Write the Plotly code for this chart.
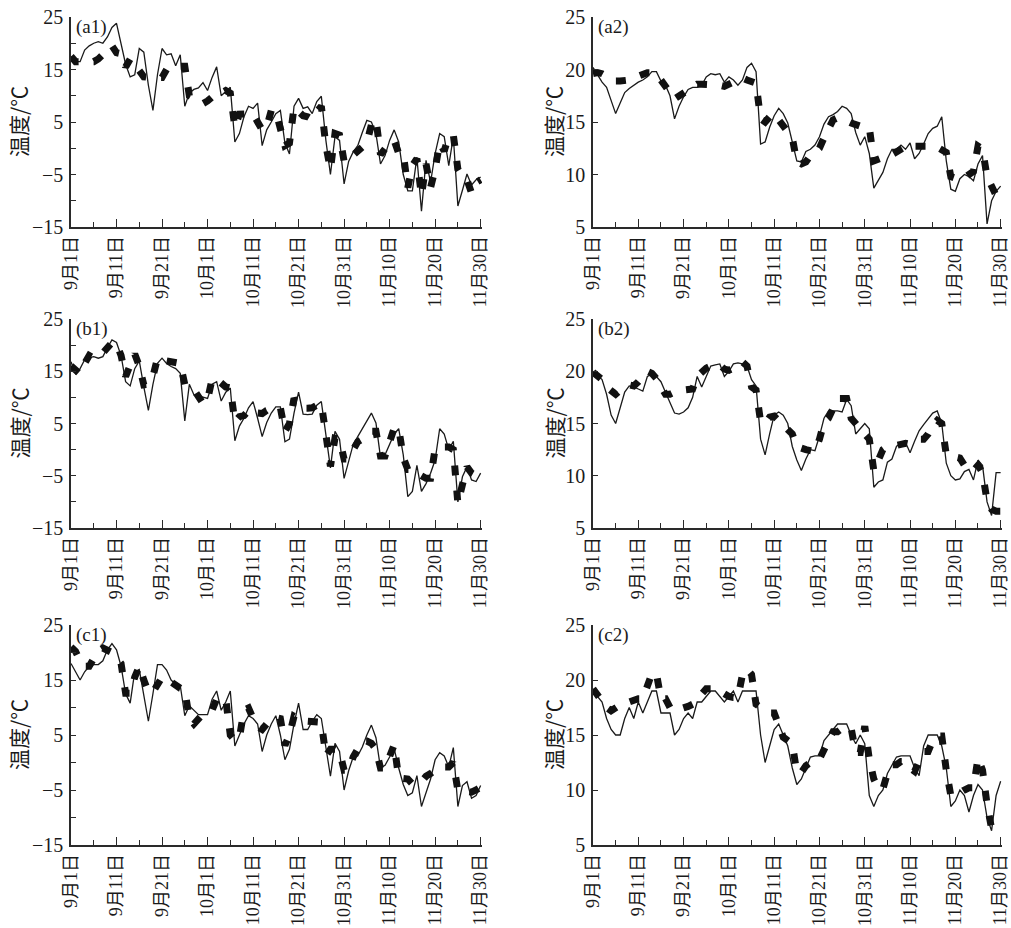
import plotly.graph_objects as go

# ---------------- data ----------------
days = list(range(91))  # 9月1日 (0) ... 11月30日 (90)
tick_days = [0, 10, 20, 30, 40, 50, 60, 70, 80, 90]
tick_labels = ["9月1日", "9月11日", "9月21日", "10月1日", "10月11日",
               "10月21日", "10月31日", "11月10日", "11月20日", "11月30日"]

a1_obs = [17.5, 16.5, 16.5, 18.7, 19.5, 20, 20.3, 20, 21.2, 23, 23.8, 20, 16, 13.6, 14, 19, 18.3, 12, 7.2, 14,
          19, 17.8, 18, 15.7, 17.8, 8, 10.5, 11.2, 11.5, 12.5, 11, 13.5, 15.5, 10, 10.8, 11.6, 1.2, 2.8, 6, 8,
          7.6, 8.6, 0.5, 3.5, 5, 6.6, 7.2, 1, -1.1, 8, 9.5, 7.6, 7.9, 6.6, 8.9, 9.9, 1.5, -5, 2.2, 1.5,
          -6.8, -2.5, -0.7, 0.5, 3, 5.3, 5, 2.8, -3, -1.4, 1.5, 3.5, 1.2, -5, -8.1, -8.1, -1.7, -12, -2.3, -6.5,
          -1, 2.8, 2.2, -3.3, 2.2, -11, -8, -4.9, -7, -6, -5.5]
a1_pred = [17.5, 16.5, 16.5, 16.5, 16.2, 16.5, 17, 18, 19, 19.5, 18.2, 18, 15.5, 17, 16, 15, 13.6, 13.5, 13.5, 13.5,
           13.5, 15, 15.5, 15.6, 15.6, 15.6, 10, 9.5, 9, 8.5, 9, 10, 10.5, 10.5, 11, 10.5, 4, 6.5, 6.6, 6.6,
           6.6, 5, 3.5, 4, 7.2, 7, 3, 0.5, 1, 7.8, 7, 6.2, 6, 5.5, 7, 8, 0.5, -4, 2.8, 2.5,
           -2.5, -1.3, -1.3, -0.5, 0, 1, 4.5, 5.5, -1.2, 0, 1, 1.5, -1, -1, -7.5, -3.3, -2, -9, -3, -7.5,
           -4, 1, -0.5, 2.3, 2.5, -4, -5.5, -6, -8.5, -6.5, -6]

a2_obs = [20.2, 19.5, 18.8, 18.3, 17, 15.8, 16.8, 17.8, 18.2, 18.5, 18.8, 19, 19.3, 19.8, 19.8, 18.9, 18.5, 17.5, 15.3, 16.5,
          17.4, 18.1, 18.3, 18.3, 18.5, 19.3, 19.6, 19.5, 19.6, 18.8, 19.3, 19, 18.5, 19, 20.2, 20.6, 19.8, 12.9, 13.1, 14.5,
          15.6, 16.3, 15.8, 14.9, 13, 11.3, 11.2, 12.2, 12.4, 12.8, 13.6, 14.8, 15.5, 15.7, 16, 16.5, 16.3, 15.8, 14, 12.8,
          13.6, 12, 8.7, 9.5, 10.2, 11.5, 12.4, 12.4, 12.8, 12.4, 13, 11.5, 12, 12.9, 13.9, 14.4, 14.6, 15.5, 11.3, 8.6,
          8.4, 9.6, 10, 9.8, 9.4, 11, 11.8, 5.3, 7.5, 8.4, 8.9]
a2_pred = [19.6, 19.7, 19.6, 19.3, 19, 18.9, 18.9, 18.9, 19, 19.2, 19.4, 19.5, 19.7, 19.7, 19.6, 19, 18.5, 17.8, 17.2, 17.5,
           17.8, 18, 18.3, 18.6, 18.6, 18.6, 18.6, 18.5, 18.5, 18.4, 18.6, 18.8, 19, 19.2, 19, 18.9, 18.7, 15.3, 15, 15.5,
           15.8, 15.2, 14.6, 14.2, 13.5, 11.2, 11, 11.2, 11.8, 12.1, 12.5, 13.5, 14.5, 15.2, 15.4, 15.3, 15.1, 14.9, 14.7, 14.6,
           14.6, 14.5, 11.3, 11.5, 11.6, 11.8, 11.9, 12.2, 12.5, 12.7, 12.9, 12.7, 12.7, 12.7, 12.8, 12.7, 12.6, 12.4, 12.1, 9.8,
           9.6, 9.5, 9.7, 10, 10.3, 12.7, 12.4, 9.8, 8.8, 8, 7.6]

b1_obs = [16.8, 14.5, 15.5, 17.2, 17.6, 17.8, 17.5, 17.8, 19.5, 21, 20.5, 18, 13, 12.2, 15.5, 17, 12, 7.5, 12.5, 16.5,
          17.5, 16.5, 15.9, 15.5, 14.6, 5.5, 12.5, 10.5, 10.3, 10, 9.8, 12.5, 13, 9.3, 11, 11.8, 1.7, 4.5, 6, 8,
          9.2, 6, 2.5, 5.2, 7, 8.2, 8.2, 1.5, 2, 7, 11, 6.8, 6.7, 6.8, 8.5, 9.2, 3, -3.5, 3.5, 2,
          -5.5, -2, 1, 2.5, 4, 5.5, 7, 5.1, -1.5, -1, 1, 3, 4, -1, -9, -8, -3, -8, -6.5, -4.5,
          -2, 4, 3, 0, 1.6, -10, -5.2, -3.3, -5.8, -6.1, -4.5]
b1_pred = [16, 15, 14.5, 16.5, 18, 17.5, 17.8, 18.5, 19.5, 20.5, 20.3, 18, 14, 16, 18.3, 16, 12.4, 12.5, 14, 17.5,
           17.5, 17, 16.8, 16.8, 16.5, 12.5, 12.2, 11.5, 10, 8.8, 9.5, 13.5, 13.5, 12.5, 12, 11.8, 5.3, 6.3, 6.5, 7.5,
           7.8, 7, 6.9, 7.5, 8, 8.2, 8, 3.5, 5, 9.8, 8.5, 7.9, 7.9, 8, 8.5, 8.8, 2.9, -3.2, 2.2, 2,
           -1.8, -1.8, 0, 1.5, 2, 3, 3.5, 3.5, -1.2, -1.2, 2, 4.1, 4.1, -1.5, -3.8, -3.8, -4.5, -5, -5.5, -5.5,
           0.2, 0.5, 0.5, 0.5, 0, -10.3, -6.7, -3.3, -4.5, -5, -5]

b2_obs = [20, 19.6, 19.2, 17.8, 15.8, 15, 16.5, 18, 18.6, 18.5, 18.3, 18.1, 19.5, 19.7, 19.5, 19, 18, 17, 16, 15.9,
          16.1, 16.5, 17.5, 19.5, 18.5, 19.5, 20.5, 20.6, 20.7, 19.5, 20, 20.7, 20.8, 20.7, 20.5, 19.2, 18.6, 13.5, 12, 14,
          15.8, 16.1, 15.8, 15, 12.8, 11.5, 10.5, 11.6, 12.5, 12.4, 13.8, 15.5, 16.2, 16.2, 16.2, 16.1, 17.3, 16.7, 14, 14.5,
          15, 14.5, 8.9, 9.4, 9.6, 11.3, 11.6, 12.8, 13.2, 13.2, 12.2, 13.3, 14.3, 14.9, 15.5, 16, 16.2, 15, 11.2, 10,
          9.6, 9.7, 10.4, 10.6, 9.6, 11.5, 11, 7.5, 6.2, 10.3, 10.3]
b2_pred = [19.9, 19.5, 19.2, 18.5, 18.2, 17.8, 18.2, 18.6, 18.7, 18.6, 19, 19.5, 20, 19.8, 19.3, 18.5, 17.8, 17.8, 18, 18.2,
           18.2, 18.2, 18.3, 19.5, 20, 20.3, 20.5, 20.7, 20.6, 20.2, 20.1, 20.3, 20.8, 20.9, 20.5, 18.5, 18.2, 15.2, 15, 15.6,
           15.7, 15.3, 14.8, 14.5, 14, 12.8, 12.6, 12.5, 12.4, 12.3, 13.5, 15.1, 15.5, 16.5, 17.4, 17.4, 17.4, 15.5, 15, 14.5,
           13.8, 13.5, 10.5, 11.5, 12.5, 12.8, 12.8, 12.9, 13, 13.1, 13, 13.2, 13.5, 13.5, 14, 14.8, 15.3, 15, 12, 11.9,
           11.8, 11.7, 11, 10.5, 10.5, 11, 10.3, 7.6, 6.8, 6.6, 6.6]

c1_obs = [18, 16.5, 15, 16.5, 17.5, 17.8, 17.8, 18.5, 20.5, 21.6, 20.5, 17.5, 12.5, 10.8, 16.5, 16.9, 12, 7.5, 12.5, 17.8,
          17.8, 16.8, 15, 14.2, 14, 8.5, 10.3, 9.5, 8.7, 8.7, 8.7, 11.5, 13, 9.5, 11, 13, 3, 5, 7, 8.5,
          8, 7, 2, 5, 7, 8.5, 5, 0.5, 2.4, 7, 10.8, 6, 6, 7.5, 8.7, 8, 3, -2.5, 3.5, 2,
          -5, -1.5, 1, 1.2, 2.8, 5, 6.8, 4.5, -1, -0.5, 1, 2.5, -1, -4, -6, -5.5, -2.4, -8, -5.5, -3,
          0.5, 1.8, 1.2, -0.8, 2.7, -8, -4.2, -3.5, -6.5, -6, -4.2]
c1_pred = [21, 20.2, 18.5, 17.5, 17.5, 19, 20.3, 20.8, 20.5, 20, 19, 18, 12.6, 12.6, 15.5, 17.5, 15, 12.8, 12.8, 14,
           15.5, 15.2, 14.5, 14, 13.5, 13.2, 8, 7, 8, 8.8, 9.2, 9.5, 11.5, 11.2, 11.5, 5, 4, 4.5, 9.5, 9.9,
           8, 6.5, 6, 7, 8, 8.2, 8, 3.1, 5, 8.4, 8, 7.5, 7.5, 7.5, 7.3, 7.3, 1.2, 2.4, 2.4, 2,
           -1.4, -1.4, 1, 2.5, 3.9, 3.9, 3.5, 2.4, -1, -1, 1, 3.2, -2.8, -3, -3, -3.9, -3.9, -3.5, -2.5, -2,
           -1.5, -0.8, -0.8, -0.8, 0, -5.1, -5.1, -5.4, -5.4, -5, -4.5]

c2_obs = [19, 18.5, 18, 16.5, 15.5, 15, 15, 16.5, 17.5, 16.5, 18, 17, 18, 19, 19, 17, 17, 17, 15, 15.5,
          16.5, 17, 16.5, 18, 18, 18.5, 19, 19, 18.5, 18, 18.5, 19, 18, 19, 19, 19, 19, 15, 12.5, 14,
          15.5, 16, 15, 14, 12, 10.5, 11, 12, 13, 13.1, 13.1, 14.5, 15, 15.5, 16, 16, 16, 15, 14.2, 15,
          14.2, 9.5, 8.5, 9.5, 10, 11.5, 12.3, 13, 13.1, 13.1, 13.1, 12, 11.3, 14, 15, 15, 15, 14, 12, 8.5,
          9, 10, 9.5, 8, 9.5, 10.5, 10, 7.5, 6.3, 9.5, 10.8]
c2_pred = [19.2, 18.6, 18.2, 17.5, 17.2, 17.5, 17.8, 18, 18, 18.2, 18.3, 18.3, 19.5, 20.6, 20.6, 18.3, 18.3, 17.5, 17.2, 17.3,
           17.4, 17.6, 17.8, 18.2, 18.8, 19.2, 19.2, 19.2, 19, 18.7, 18.5, 18.4, 18.4, 20.5, 21, 20.5, 17.8, 17.5, 17.2, 17,
           17, 16, 14.8, 14.5, 14.2, 11.6, 11.6, 12.2, 12.5, 12.8, 12.8, 13.5, 14.5, 15.3, 15.3, 15.6, 15.8, 15.6, 13.4, 13.4,
           15.8, 12.8, 11, 10.1, 10.1, 11.5, 12.3, 12.3, 12.6, 12.6, 12, 11.7, 12.5, 13.5, 13.5, 14.5, 14.9, 14.9, 11.8, 9.5,
           9.5, 9.8, 10, 10.2, 10.2, 12.9, 11.8, 8.7, 6.5, 6.4, 6.4]

panels = [
    ("(a1)", a1_obs, a1_pred, "left", 0),
    ("(a2)", a2_obs, a2_pred, "right", 0),
    ("(b1)", b1_obs, b1_pred, "left", 1),
    ("(b2)", b2_obs, b2_pred, "right", 1),
    ("(c1)", c1_obs, c1_pred, "left", 2),
    ("(c2)", c2_obs, c2_pred, "right", 2),
]

# ---------------- layout geometry (pixels) ----------------
W, H = 1011, 928
col_px = {"left": (71, 482), "right": (593, 1002)}
row_px = [(17, 227), (319, 528), (625, 845)]
title_x = {"left": 18, "right": 553}

FONT = "Liberation Serif, Times New Roman, Noto Sans CJK SC, serif"
AX = "#2a2a2a"

fig = go.Figure()
annotations = []

for i, (label, obs, pred, col, row) in enumerate(panels):
    k = "" if i == 0 else str(i + 1)
    xa, ya = "x" + k, "y" + k
    fig.add_trace(go.Scatter(x=days, y=obs, mode="lines", xaxis=xa, yaxis=ya,
                             line=dict(color="#1a1a1a", width=1.3), showlegend=False))
    fig.add_trace(go.Scatter(x=days, y=pred, mode="lines", xaxis=xa, yaxis=ya,
                             line=dict(color="#111111", width=7, dash="10px,15px"), showlegend=False))

    x0, x1 = col_px[col]
    t, b = row_px[row]
    xdom = [x0 / W, x1 / W]
    ydom = [1 - b / H, 1 - t / H]

    if col == "left":
        yr = [-15, 25]
        ytv = [-15, -5, 5, 15, 25]
        yminor = dict(tickmode="array", tickvals=[-10, 0, 10, 20], ticks="inside", ticklen=5,
                      tickcolor=AX, tickwidth=1.2)
    else:
        yr = [5, 25]
        ytv = [5, 10, 15, 20, 25]
        yminor = None

    fig.layout["xaxis" + k] = dict(
        domain=xdom, anchor=ya, range=[0, 90.3], tickmode="array", tickvals=tick_days,
        ticktext=tick_labels, tickangle=-90, ticks="inside", ticklen=8, tickwidth=1.2,
        tickcolor=AX, showline=True, linecolor=AX, linewidth=1.5, showgrid=False,
        zeroline=False, tickfont=dict(family=FONT, size=18, color="#1a1a1a"),
        minor=dict(tickmode="array", tickvals=[5, 15, 25, 35, 45, 55, 65, 75, 85],
                   ticks="inside", ticklen=5, tickcolor=AX, tickwidth=1.2),
        fixedrange=True, automargin=False, ticklabeloverflow="allow",
    )
    yax = dict(
        domain=ydom, anchor=xa, range=yr, tickmode="array", tickvals=ytv,
        ticks="inside", ticklen=5, tickwidth=1.2, tickcolor=AX, showline=True,
        linecolor=AX, linewidth=1.5, showgrid=False, zeroline=False,
        tickfont=dict(family=FONT, size=20, color="#1a1a1a"), ticklabelstandoff=2,
        automargin=False, fixedrange=True, ticklabeloverflow="allow",
    )
    if yminor:
        yax["minor"] = yminor
    fig.layout["yaxis" + k] = yax

    annotations.append(dict(text=label, x=(x0 + 3) / W, y=1 - ((t + 10) / H), xref="paper", yref="paper",
                            xanchor="left", yanchor="middle", showarrow=False,
                            font=dict(family=FONT, size=19, color="#1a1a1a")))
    annotations.append(dict(text="温度/℃", x=title_x[col] / W, y=1 - ((t + b) / 2) / H,
                            xref="paper", yref="paper",
                            xanchor="center", yanchor="middle", textangle=-90, showarrow=False,
                            font=dict(family="Noto Sans CJK SC, Liberation Serif", size=21, color="#1a1a1a")))

fig.update_layout(width=W, height=H, margin=dict(l=0, r=0, t=0, b=0, autoexpand=False),
                  paper_bgcolor="white", plot_bgcolor="white", annotations=annotations)

# remove the browser's default body margin so the 1011x928 figure fills the window exactly
fig.write_html("out.html", config={"displayModeBar": False},
               post_script="document.body.style.margin='0px';document.body.style.overflow='hidden';")
